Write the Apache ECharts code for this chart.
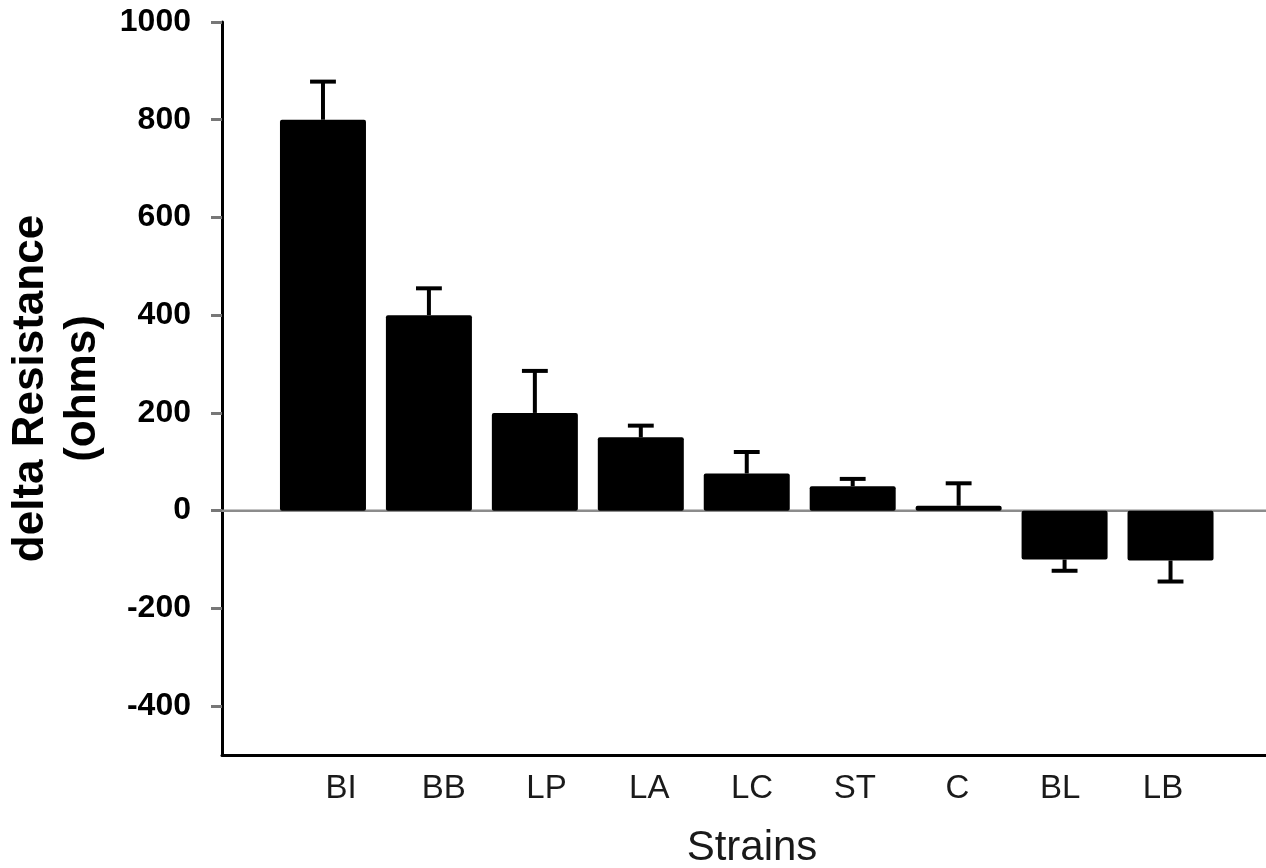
<!DOCTYPE html>
<html>
<head>
<meta charset="utf-8">
<script src="https://cdn.jsdelivr.net/npm/echarts@6/dist/echarts.min.js"></script>
<style>
html,body{margin:0;padding:0;background:#fff;}
#chart{width:1266px;height:868px;}
</style>
</head>
<body>
<div id="chart"></div>
<script>
const categories = ['BI', 'BB', 'LP', 'LA', 'LC', 'ST', 'C', 'BL', 'LB'];
const means = [800, 400, 200, 150, 76, 50, 10, -100, -102];
const errors = [78, 55, 86, 24, 44, 15, 46, 23, 43];
const yTicks = [-400, -200, 0, 200, 400, 600, 800, 1000];
const yMin = -500, yMax = 1000;

const FONT = '"Liberation Sans", Arial, Helvetica, sans-serif';
const chart = echarts.init(document.getElementById('chart'));

const errData = categories.map((c, i) => [i, means[i], errors[i]]);

chart.setOption({
  animation: false,
  backgroundColor: '#ffffff',
  grid: [
    { left: 222, right: 0, top: 22, bottom: 113, outerBoundsMode: 'none', containLabel: false },
    { left: 270, right: 42.5, top: 22, bottom: 113, outerBoundsMode: 'none', containLabel: false },
    { left: 289.6, right: 51.6, top: 22, bottom: 113, outerBoundsMode: 'none', containLabel: false }
  ],
  xAxis: [
    {
      gridIndex: 0, type: 'value', min: 0, max: 1,
      axisLine: { show: true, onZero: false, lineStyle: { color: '#000', width: 3 } },
      axisTick: { show: false }, axisLabel: { show: false }, splitLine: { show: false }
    },
    { gridIndex: 1, type: 'category', data: categories, show: false },
    {
      gridIndex: 2, type: 'category', data: categories,
      axisLine: { show: false }, axisTick: { show: false }, splitLine: { show: false },
      axisLabel: { fontFamily: FONT, fontSize: 33, color: '#1a1a1a', margin: 17 },
      name: 'Strains', nameLocation: 'middle', nameGap: 72,
      nameTextStyle: { fontFamily: FONT, fontSize: 42, color: '#1a1a1a' }
    }
  ],
  yAxis: [
    {
      gridIndex: 0, type: 'value', min: yMin, max: yMax,
      axisLine: { show: true, onZero: false, lineStyle: { color: '#000', width: 3 } },
      axisTick: { show: true, length: 11, customValues: yTicks, lineStyle: { color: '#777', width: 3 } },
      axisLabel: {
        customValues: yTicks, fontFamily: FONT, fontSize: 32, fontWeight: 'bold', color: '#000', margin: 31,
        formatter: function (v) { return String(v); }
      },
      splitLine: { show: false },
      name: 'delta Resistance\n(ohms)', nameLocation: 'middle', nameGap: 110, nameRotate: 90,
      nameTextStyle: { fontFamily: FONT, fontSize: 44, fontWeight: 'bold', color: '#000', lineHeight: 52, align: 'center' }
    },
    { gridIndex: 1, type: 'value', min: yMin, max: yMax, show: false },
    { gridIndex: 2, type: 'value', min: yMin, max: yMax, show: false }
  ],
  series: [
    {
      type: 'line', xAxisIndex: 0, yAxisIndex: 0, silent: true, z: 1,
      data: [[0, 0], [1, 0]], symbol: 'none',
      lineStyle: { color: '#8c8c8c', width: 2.5 }
    },
    {
      type: 'bar', xAxisIndex: 1, yAxisIndex: 1, data: means, barWidth: 86, z: 2,
      itemStyle: { color: '#000', borderRadius: 2 }
    },
    {
      type: 'custom', xAxisIndex: 1, yAxisIndex: 1, data: errData, z: 3,
      renderItem: function (params, api) {
        const i = api.value(0), m = api.value(1), e = api.value(2);
        const end = m >= 0 ? m + e : m - e;
        const p0 = api.coord([i, m]);
        const p1 = api.coord([i, end]);
        const hw = api.size([1, 0])[0] * 0.122;
        const style = { stroke: '#000', lineWidth: 4 };
        return {
          type: 'group',
          children: [
            { type: 'line', shape: { x1: p0[0], y1: p0[1], x2: p1[0], y2: p1[1] }, style: style },
            { type: 'line', shape: { x1: p1[0] - hw, y1: p1[1], x2: p1[0] + hw, y2: p1[1] }, style: style }
          ]
        };
      }
    }
  ]
});
</script>
</body>
</html>
